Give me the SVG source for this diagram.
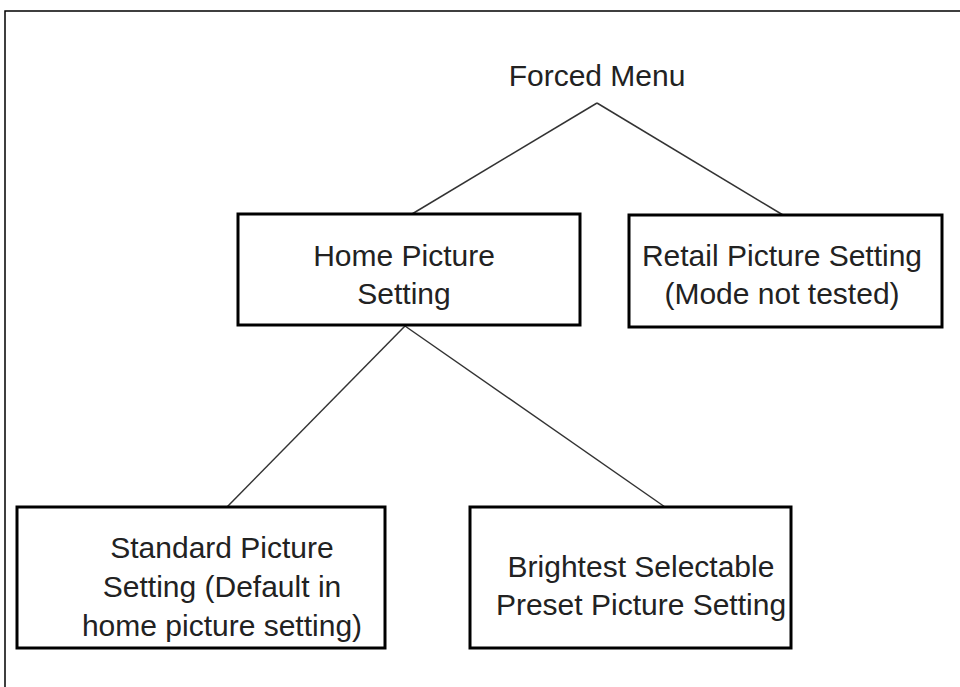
<svg xmlns="http://www.w3.org/2000/svg" width="960" height="687" viewBox="0 0 960 687">
<style>
.box{fill:#fff;stroke:#000;stroke-width:3}
.t{font-family:"Liberation Sans",Arial,sans-serif;font-size:30px;fill:#222;text-anchor:middle}
.c{stroke:#333;stroke-width:1.5;fill:none}
</style>
<rect x="0" y="0" width="960" height="687" fill="#fff"/>
<rect x="5" y="11" width="1000" height="1000" fill="none" stroke="#000" stroke-width="1.5"/>
<g id="connectors">
<line class="c" x1="597" y1="103" x2="412" y2="214"/>
<line class="c" x1="597" y1="103" x2="783" y2="215"/>
<line class="c" x1="405" y1="326" x2="227" y2="507"/>
<line class="c" x1="405" y1="326" x2="665" y2="507"/>
</g>
<g id="forced-menu">
<text class="t" x="597" y="86">Forced Menu</text>
</g>
<g id="home-picture-setting">
<rect class="box" x="238" y="214" width="342" height="111"/>
<text class="t" x="404" y="266">Home Picture</text>
<text class="t" x="404" y="304">Setting</text>
</g>
<g id="retail-picture-setting">
<rect class="box" x="629" y="215" width="313" height="112"/>
<text class="t" x="782" y="266">Retail Picture Setting</text>
<text class="t" x="782" y="304">(Mode not tested)</text>
</g>
<g id="standard-picture-setting">
<rect class="box" x="17" y="507" width="368" height="141"/>
<text class="t" x="222" y="558">Standard Picture</text>
<text class="t" x="222" y="597">Setting (Default in</text>
<text class="t" x="222" y="636">home picture setting)</text>
</g>
<g id="brightest-preset-setting">
<rect class="box" x="470" y="507" width="321" height="141"/>
<text class="t" x="641" y="577">Brightest Selectable</text>
<text class="t" x="641" y="615">Preset Picture Setting</text>
</g>
</svg>
